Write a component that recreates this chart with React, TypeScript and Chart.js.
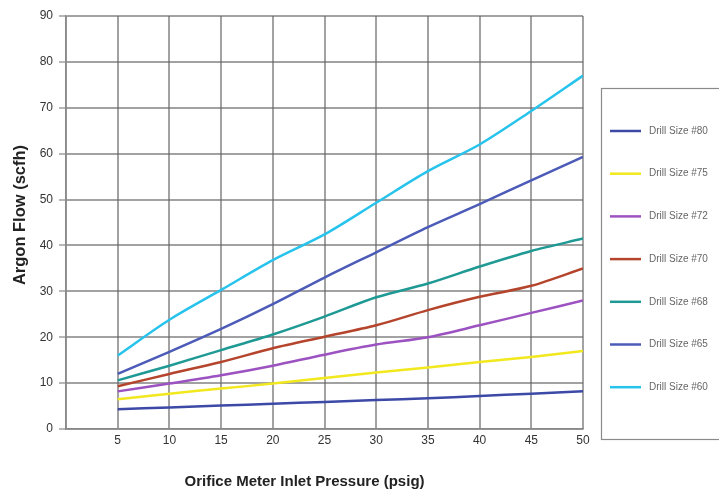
import React, { useEffect, useRef } from "react";
import { Chart, registerables } from "chart.js";

Chart.register(...registerables);

const pressures = [5, 10, 15, 20, 25, 30, 35, 40, 45, 50];
const drill80 = [4.3, 4.7, 5.1, 5.5, 5.9, 6.3, 6.7, 7.2, 7.7, 8.2];
const drill75 = [6.5, 7.7, 8.8, 9.9, 11.1, 12.3, 13.4, 14.6, 15.7, 17.0];
const drill72 = [8.2, 9.9, 11.7, 13.8, 16.2, 18.4, 20.0, 22.6, 25.3, 28.0];
const drill70 = [9.3, 12.0, 14.6, 17.6, 20.1, 22.6, 25.9, 28.8, 31.2, 35.0];
const drill68 = [10.6, 13.8, 17.2, 20.6, 24.5, 28.7, 31.7, 35.4, 38.8, 41.5];
const drill65 = [12.0, 16.8, 21.8, 27.2, 33.0, 38.5, 44.0, 49.0, 54.2, 59.3];
const drill60 = [16.0, 23.8, 30.3, 36.8, 42.4, 49.3, 56.2, 62.0, 69.3, 77.0];

const seriesLabels = [
  "Drill Size #80",
  "Drill Size #75",
  "Drill Size #72",
  "Drill Size #70",
  "Drill Size #68",
  "Drill Size #65",
  "Drill Size #60",
];
const seriesValues = [drill80, drill75, drill72, drill70, drill68, drill65, drill60];
const seriesColors = ["#3c49a6", "#f2e81e", "#9c52c0", "#b4452c", "#1f9994", "#4c5bb8", "#27c3ec"];

const xTitle = "Orifice Meter Inlet Pressure (psig)";
const yTitle = "Argon Flow (scfh)";

const overlayPlugin = {
  id: "overlay",
  afterDraw(chart: any) {
    const ctx = chart.ctx;
    const ca = chart.chartArea;
    ctx.save();
    // axis titles
    ctx.fillStyle = "#222";
    ctx.font = "bold 15px 'Liberation Sans', Arial, sans-serif";
    ctx.textAlign = "center";
    ctx.textBaseline = "middle";
    ctx.fillText(xTitle, (ca.left + ca.right) / 2 - 20, 482);
    ctx.font = "bold 16.5px 'Liberation Sans', Arial, sans-serif";
    ctx.translate(20, 215);
    ctx.rotate(-Math.PI / 2);
    ctx.fillText(yTitle, 0, 0);
    ctx.restore();

    // legend box
    ctx.save();
    ctx.strokeStyle = "#8a8a8a";
    ctx.lineWidth = 1.2;
    ctx.strokeRect(601.5, 88.5, 130, 351);
    ctx.font = "10px 'Liberation Sans Narrow', 'Liberation Sans', Arial, sans-serif";
    ctx.textAlign = "left";
    ctx.textBaseline = "middle";
    chart.data.datasets.forEach((ds: any, i: number) => {
      const y = 131 + i * 42.7;
      ctx.strokeStyle = ds.borderColor;
      ctx.lineWidth = 2.5;
      ctx.beginPath();
      ctx.moveTo(610, y);
      ctx.lineTo(641, y);
      ctx.stroke();
      ctx.fillStyle = "#666";
      ctx.fillText(ds.label, 649, y);
    });
    ctx.restore();
  },
};

export default function App() {
  const canvasRef = useRef<HTMLCanvasElement | null>(null);

  useEffect(() => {
    document.body.style.margin = "0";
    const canvas = canvasRef.current;
    if (!canvas) return;
    const chart = new Chart(canvas, {
      type: "line",
      data: {
        datasets: seriesLabels.map((label, i) => ({
          label,
          data: pressures.map((p, j) => ({ x: p, y: seriesValues[i][j] })),
          borderColor: seriesColors[i],
          backgroundColor: seriesColors[i],
          borderWidth: 2.5,
          pointRadius: 0,
          tension: 0.3,
          fill: false,
        })),
      },
      options: {
        animation: false,
        responsive: false,
        maintainAspectRatio: false,
        layout: { padding: { top: 16, right: 136, left: 0, bottom: 0 } },
        plugins: {
          legend: { display: false },
          tooltip: { enabled: false },
        },
        scales: {
          x: {
            type: "linear",
            min: 0,
            max: 50,
            afterFit: (s: any) => {
              s.height = 61;
            },
            ticks: {
              stepSize: 5,
              padding: 4,
              color: "#333",
              font: { size: 12, family: "'Liberation Sans', Arial, sans-serif" },
              callback: (v: any) => (v === 0 ? "" : String(v)),
            },
            grid: {
              color: "rgba(100,100,100,0.6)",
              lineWidth: 2,
              drawTicks: false,
            },
            border: { color: "#888", width: 1.5 },
          },
          y: {
            type: "linear",
            min: 0,
            max: 90,
            afterFit: (s: any) => {
              s.width = 66;
            },
            ticks: {
              stepSize: 10,
              padding: 6,
              color: "#333",
              font: { size: 12, family: "'Liberation Sans', Arial, sans-serif" },
            },
            grid: {
              color: "rgba(100,100,100,0.6)",
              lineWidth: 2,
              tickLength: 7,
              tickColor: "#888",
              tickWidth: 1.2,
            },
            border: { color: "#888", width: 1.5 },
          },
        },
      },
      plugins: [overlayPlugin],
    });
    return () => chart.destroy();
  }, []);

  return (
    <div style={{ position: "absolute", left: 0, top: 0, width: 719, height: 490, background: "#fff" }}>
      <canvas ref={canvasRef} width={719} height={490} style={{ width: 719, height: 490, display: "block" }} />
    </div>
  );
}
